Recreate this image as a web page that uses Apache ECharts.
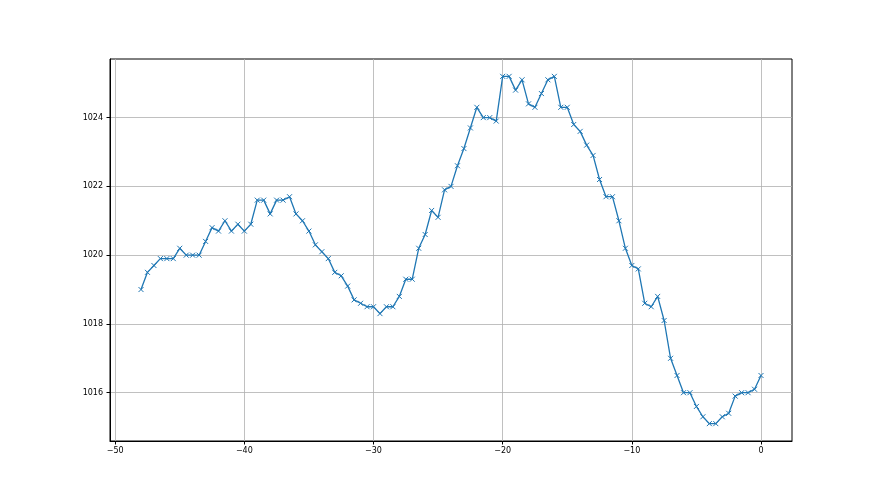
<!DOCTYPE html>
<html>
<head>
<meta charset="utf-8">
<script src="https://cdn.jsdelivr.net/npm/echarts@6/dist/echarts.min.js"></script>
<style>html,body{margin:0;padding:0;background:#fff;}#c{width:880px;height:495px;}</style>
</head>
<body>
<div id="c"></div>
<script>
const xValues = [];
for (let i = 0; i <= 96; i++) xValues.push(-48 + i * 0.5);
const pressure = [
  1019.0, 1019.5, 1019.7, 1019.9, 1019.9, 1019.9, 1020.2, 1020.0, 1020.0, 1020.0,
  1020.4, 1020.8, 1020.7, 1021.0, 1020.7, 1020.9, 1020.7, 1020.9, 1021.6, 1021.6,
  1021.2, 1021.6, 1021.6, 1021.7, 1021.2, 1021.0, 1020.7, 1020.3, 1020.1, 1019.9,
  1019.5, 1019.4, 1019.1, 1018.7, 1018.6, 1018.5, 1018.5, 1018.3, 1018.5, 1018.5,
  1018.8, 1019.3, 1019.3, 1020.2, 1020.6, 1021.3, 1021.1, 1021.9, 1022.0, 1022.6,
  1023.1, 1023.7, 1024.3, 1024.0, 1024.0, 1023.9, 1025.2, 1025.2, 1024.8, 1025.1,
  1024.4, 1024.3, 1024.7, 1025.1, 1025.2, 1024.3, 1024.3, 1023.8, 1023.6, 1023.2,
  1022.9, 1022.2, 1021.7, 1021.7, 1021.0, 1020.2, 1019.7, 1019.6, 1018.6, 1018.5,
  1018.8, 1018.1, 1017.0, 1016.5, 1016.0, 1016.0, 1015.6, 1015.3, 1015.1, 1015.1,
  1015.3, 1015.4, 1015.9, 1016.0, 1016.0, 1016.1, 1016.5
];
const xTicks = [-50, -40, -30, -20, -10, 0];
const yTicks = [1016, 1018, 1020, 1022, 1024];

const data = xValues.map((x, i) => [x, pressure[i]]);
const xMin = -48, xMax = 0;
const yMinD = Math.min(...pressure), yMaxD = Math.max(...pressure);
const xPad = (xMax - xMin) * 0.05, yPad = (yMaxD - yMinD) * 0.05;

const chart = echarts.init(document.getElementById('c'));
const labelStyle = { color: '#000', fontFamily: 'DejaVu Sans', fontSize: 8 };
chart.setOption({
  animation: false,
  backgroundColor: '#fff',
  grid: { left: 110, right: 88, top: 59, bottom: 54, show: true, borderColor: '#000', borderWidth: 1, backgroundColor: 'transparent' },
  xAxis: {
    type: 'value', min: xMin - xPad, max: xMax + xPad,
    axisLine: { show: true, onZero: false, lineStyle: { color: '#000', width: 1 } },
    axisTick: { show: true, length: 3.5, customValues: xTicks, lineStyle: { color: '#000' } },
    axisLabel: Object.assign({ customValues: xTicks, margin: 6, formatter: v => String(v).replace('-', '\u2212') }, labelStyle),
    splitLine: { show: true, lineStyle: { color: '#b0b0b0', width: 0.8 } }
  },
  yAxis: {
    type: 'value', min: yMinD - yPad, max: yMaxD + yPad,
    axisLine: { show: true, onZero: false, lineStyle: { color: '#000', width: 1 } },
    axisTick: { show: true, length: 3.5, customValues: yTicks, lineStyle: { color: '#000' } },
    axisLabel: Object.assign({ customValues: yTicks, margin: 7, formatter: v => String(v) }, labelStyle),
    splitLine: { show: true, lineStyle: { color: '#b0b0b0', width: 0.8 } }
  },
  series: [{
    type: 'line',
    data: data,
    lineStyle: { color: '#1f77b4', width: 1.3 },
    symbol: 'path://M0 0L10 10M10 0L0 10',
    symbolSize: 5,
    showSymbol: true,
    itemStyle: { color: 'transparent', borderColor: '#1f77b4', borderWidth: 1 }
  }]
});
</script>
</body>
</html>
